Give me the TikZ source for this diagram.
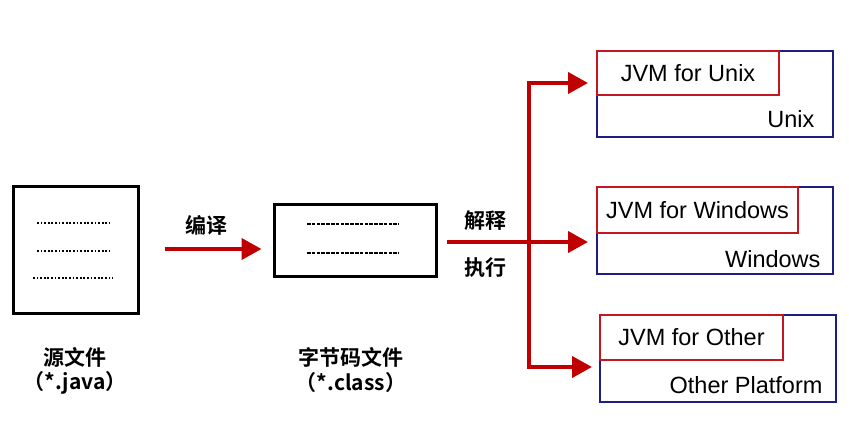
\documentclass[tikz,border=0pt]{standalone}
\usepackage{fontspec}
\setmainfont{Liberation Sans}
\newfontfamily\cjk{Noto Sans CJK SC}[BoldFont={Noto Sans CJK SC Bold}]
\usepackage{xcolor}
\usetikzlibrary{arrows.meta,calc}
\definecolor{flowred}{RGB}{192,0,0}
\definecolor{jvmred}{RGB}{196,22,34}
\definecolor{osblue}{RGB}{30,30,130}
\tikzset{
	filebox/.style={draw=black,line width=3pt,inner sep=0pt},
	osbox/.style={draw=osblue,line width=2pt,inner sep=0pt},
	jvmbox/.style={draw=jvmred,line width=2.5pt,inner sep=0pt,font=\fontsize{23.5}{27}\selectfont},
	flow/.style={draw=flowred,line width=4pt,-{Triangle[length=20pt,width=21pt]}},
	txt/.style={font=\fontsize{23.5}{27}\selectfont},
	zh/.style={font=\fontsize{21}{25}\selectfont\cjk\bfseries}
}

\begin{document}
\begin{tikzpicture}[x=1pt,y=-1pt]
		\useasboundingbox (0,0) rectangle (849,432);
		% files
		\node[filebox,minimum width=125pt,minimum height=127pt] (src) at (75.5,249.5) {};
		\node[filebox,minimum width=162pt,minimum height=72pt] (cls) at (355,240) {};
		\draw[line width=2.2pt,dash pattern=on 1.8pt off 1.8pt] (37,223) -- (110,223) (37,251) -- (110,251) (33,278) -- (113,278);
		\draw[line width=2.2pt,dash pattern=on 3.5pt off 1.3pt] (307,224) -- (399,224) (307,253) -- (399,253);
		\node[zh] (srcname) at (75,357) {源文件};
		\node[zh] (srcext) at (75,383) {（*.java）};
		\node[zh] (clsname) at (351,357) {字节码文件};
		\node[zh] (clsext) at (351,383) {（*.class）};
		%
		\node[osbox,minimum width=236pt,minimum height=86pt] (unix) at (715,94) {};
		\node[osbox,minimum width=236pt,minimum height=87pt] (win) at (715,230.5) {};
		\node[osbox,minimum width=236pt,minimum height=87pt] (other) at (718,358.5) {};
		\node[jvmbox,minimum width=182pt,minimum height=44pt] (jvmU) at (688,73) {JVM for Unix};
		\node[jvmbox,minimum width=201pt,minimum height=46pt] (jvmW) at (697.5,210) {JVM for Windows};
		\node[jvmbox,minimum width=183pt,minimum height=45pt] (jvmO) at (691.5,337.5) {JVM for Other};
		\node[txt,anchor=east] (osU) at (818,119) {Unix};
		\node[txt,anchor=east] (osW) at (824,259) {Windows};
		\node[txt,anchor=east] (osO) at (826,385) {Other Platform};
		%
		\coordinate (start) at (447,242);
		\coordinate (split) at (529,242);
		\coordinate (toU) at (588,83);
		\coordinate (toW) at (588,242);
		\coordinate (toO) at (592,367);
		\draw[flow,shorten <=25pt,shorten >=11pt] (src.east|-0,249) -- node[zh,above=8pt]{编译} (cls.west|-0,249);
		\draw[flow] (start) -- node[zh,pos=0.27,above=6pt]{解释} node[zh,pos=0.27,below=10pt]{执行} (toW);
		\draw[flow] (split) |- (toU);
		\draw[flow] (split) |- (toO);
		\end{tikzpicture}
\end{document}
